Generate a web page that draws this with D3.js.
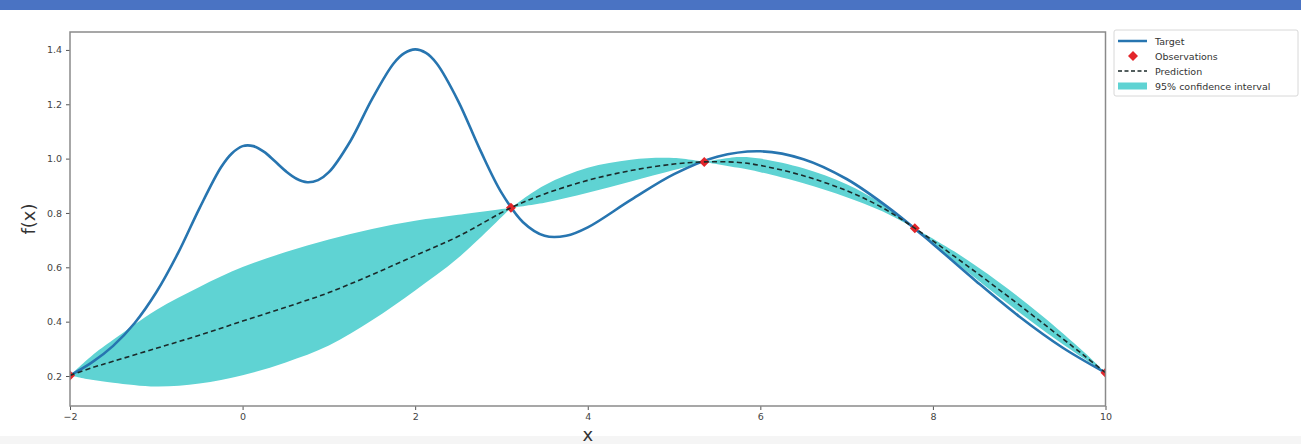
<!DOCTYPE html>
<html>
<head>
<meta charset="utf-8">
<script src="https://cdn.jsdelivr.net/npm/d3@7"></script>
<style>
  body { margin: 0; background: #fff; }
  svg { display: block; font-family: "DejaVu Sans", sans-serif; }
</style>
</head>
<body>
<script>
// target curve
var targetX = [-2, -1.75, -1.5, -1.25, -1, -0.75, -0.5, -0.25, -0.125, 0, 0.125, 0.25, 0.375, 0.5, 0.625, 0.75, 0.875, 1, 1.25, 1.5, 1.75, 1.875, 2, 2.125, 2.25, 2.5, 2.75, 3, 3.25, 3.5, 3.75, 4, 4.5, 5, 5.5, 6, 6.5, 7, 7.5, 8, 8.5, 9, 9.5, 10];
var targetY = [0.202, 0.249, 0.311, 0.395, 0.508, 0.651, 0.817, 0.968, 1.019, 1.046, 1.046, 1.025, 0.990, 0.954, 0.926, 0.913, 0.921, 0.950, 1.065, 1.219, 1.350, 1.388, 1.402, 1.389, 1.350, 1.211, 1.034, 0.875, 0.766, 0.716, 0.716, 0.747, 0.848, 0.943, 1.007, 1.027, 0.998, 0.925, 0.816, 0.686, 0.549, 0.419, 0.305, 0.212];

// observations
var obsX = [-2, 3.11, 5.35, 7.79, 10];
var obsY = [0.202, 0.819, 0.988, 0.744, 0.212];

// prediction and 95% band
var predX = [-2, -1.75, -1.5, -1, -0.5, 0, 0.5, 1, 1.5, 2, 2.5, 3.11, 3.5, 4, 4.5, 5, 5.35, 5.75, 6, 6.5, 7, 7.4, 7.79, 8.25, 8.75, 9.25, 9.75, 10];
var predY = [0.202, 0.230, 0.254, 0.302, 0.350, 0.402, 0.453, 0.507, 0.573, 0.643, 0.714, 0.819, 0.870, 0.920, 0.956, 0.980, 0.988, 0.986, 0.975, 0.937, 0.882, 0.822, 0.744, 0.640, 0.522, 0.400, 0.276, 0.212];
var ciLow = [0.202, 0.186, 0.175, 0.161, 0.172, 0.203, 0.250, 0.312, 0.405, 0.515, 0.635, 0.819, 0.838, 0.874, 0.916, 0.958, 0.988, 0.966, 0.950, 0.909, 0.858, 0.808, 0.744, 0.622, 0.495, 0.375, 0.264, 0.212];
var ciHigh = [0.202, 0.274, 0.333, 0.443, 0.528, 0.601, 0.656, 0.702, 0.741, 0.771, 0.793, 0.819, 0.902, 0.966, 0.996, 1.002, 0.988, 1.006, 1.000, 0.965, 0.906, 0.836, 0.744, 0.658, 0.549, 0.425, 0.288, 0.212];

var xTicks = [-2, 0, 2, 4, 6, 8, 10];
var yTicks = [0.2, 0.4, 0.6, 0.8, 1.0, 1.2, 1.4];
var legendLabels = ["Target", "Observations", "Prediction", "95% confidence interval"];

var width = 1301, height = 444;
var plotL = 70, plotR = 1105.5, plotT = 32, plotB = 406;

var svg = d3.select("body").append("svg")
  .attr("width", width)
  .attr("height", height)

// header bar and bottom strip
svg.append("rect").attr("x", 0).attr("y", 0).attr("width", width).attr("height", 10).attr("fill", "#4a73c3")
svg.append("rect").attr("x", 0).attr("y", 436).attr("width", width).attr("height", 8).attr("fill", "#f5f5f5")

var x = d3.scaleLinear().domain([-2, 10]).range([plotL, plotR])
var y = d3.scaleLinear().domain([0.0896, 1.466]).range([plotB, plotT])

svg.append("clipPath").attr("id", "plotclip")
  .append("rect")
  .attr("x", plotL).attr("y", plotT)
  .attr("width", plotR - plotL).attr("height", plotB - plotT)

var plot = svg.append("g").attr("clip-path", "url(#plotclip)")

var rows = predX.map(function(d, i) {
  return { x: d, m: predY[i], lo: ciLow[i], hi: ciHigh[i] }
})

var smooth = d3.curveCatmullRom.alpha(0.5)

var band = d3.area()
  .x(function(d) { return x(d.x) })
  .y0(function(d) { return y(d.lo) })
  .y1(function(d) { return y(d.hi) })
  .curve(smooth)

// one lens between each pair of observations
for (var k = 0; k < obsX.length - 1; k++) {
  var seg = rows.filter(function(r) { return r.x >= obsX[k] && r.x <= obsX[k + 1] })
  plot.append("path")
    .attr("d", band(seg))
    .attr("fill", "#5fd3d3")
}

var targetLine = d3.line()
  .x(function(d, i) { return x(targetX[i]) })
  .y(function(d) { return y(d) })
  .curve(smooth)

plot.append("path")
  .attr("d", targetLine(targetY))
  .attr("fill", "none")
  .attr("stroke", "#2775b0")
  .attr("stroke-width", 2.6)

var diamond = d3.symbol().type(d3.symbolSquare).size(50)

plot.selectAll(".obs")
  .data(obsX)
  .enter().append("path")
  .attr("class", "obs")
  .attr("d", diamond)
  .attr("transform", function(d, i) {
    return "translate(" + x(d) + " " + y(obsY[i]) + ") rotate(45)"
  })
  .attr("fill", "#e3262b")

var predLine = d3.line()
  .x(function(d) { return x(d.x) })
  .y(function(d) { return y(d.m) })
  .curve(smooth)

plot.append("path")
  .attr("d", predLine(rows))
  .attr("fill", "none")
  .attr("stroke", "#1b2a2a")
  .attr("stroke-width", 1.6)
  .attr("stroke-dasharray", "5,3.2")

// axes
svg.append("g")
  .attr("transform", "translate(0 " + plotB + ")")
  .call(d3.axisBottom(x).tickValues(xTicks).tickSize(4).tickPadding(3))

svg.append("g")
  .attr("transform", "translate(" + plotL + " 0)")
  .call(d3.axisLeft(y).tickValues(yTicks).tickSize(4).tickPadding(4).tickFormat(d3.format(".1f")))

svg.selectAll(".domain").remove()
svg.selectAll(".tick line").attr("stroke", "#555")
svg.selectAll(".tick text")
  .attr("fill", "#444")
  .style("font-size", "9.5px")
  .style("font-family", "DejaVu Sans, sans-serif")

svg.append("rect")
  .attr("x", plotL).attr("y", plotT)
  .attr("width", plotR - plotL).attr("height", plotB - plotT)
  .attr("fill", "none")
  .attr("stroke", "#8a8a8a")
  .attr("stroke-width", 1.5)

svg.append("text")
  .text("x")
  .attr("x", (plotL + plotR) / 2)
  .attr("y", 441)
  .attr("text-anchor", "middle")
  .attr("fill", "#333")
  .style("font-size", "18px")

svg.append("text")
  .text("f(x)")
  .attr("transform", "translate(35 " + ((plotT + plotB) / 2) + ") rotate(-90)")
  .attr("text-anchor", "middle")
  .attr("fill", "#333")
  .style("font-size", "18px")

// legend
var lg = svg.append("g").attr("transform", "translate(1114 30)")
lg.append("rect")
  .attr("width", 184).attr("height", 66)
  .attr("rx", 2)
  .attr("fill", "#fff")
  .attr("stroke", "#d8d8d8")

var rowY = function(i) { return 11 + i * 15 }

lg.append("line").attr("x1", 4).attr("x2", 33).attr("y1", rowY(0)).attr("y2", rowY(0))
  .attr("stroke", "#2775b0").attr("stroke-width", 2.5)
lg.append("path").attr("d", diamond)
  .attr("transform", "translate(19 " + rowY(1) + ") rotate(45)")
  .attr("fill", "#e3262b")
lg.append("line").attr("x1", 4).attr("x2", 33).attr("y1", rowY(2)).attr("y2", rowY(2))
  .attr("stroke", "#1b2a2a").attr("stroke-width", 1.4).attr("stroke-dasharray", "4,2.5")
lg.append("rect").attr("x", 4).attr("y", rowY(3) - 3.5).attr("width", 29).attr("height", 7)
  .attr("fill", "#5fd3d3")

lg.selectAll(".lab")
  .data(legendLabels)
  .enter().append("text")
  .attr("class", "lab")
  .text(function(d) { return d })
  .attr("x", 41)
  .attr("y", function(d, i) { return rowY(i) + 3.5 })
  .attr("fill", "#333")
  .style("font-size", "9.5px")
</script>
</body>
</html>
